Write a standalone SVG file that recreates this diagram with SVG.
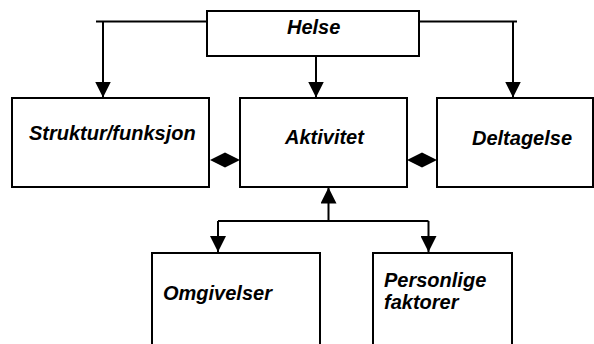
<svg xmlns="http://www.w3.org/2000/svg" width="594" height="344" viewBox="0 0 594 344">
  <style>
    .box { fill: #ffffff; stroke: #000000; stroke-width: 2; }
    .lbl { font-family: "Liberation Sans", Arial, sans-serif; font-size: 20px; font-weight: bold; font-style: italic; fill: #000000; }
    .ln { fill: none; stroke: #000000; stroke-width: 2; }
    .dia { fill: #000000; stroke: none; }
  </style>
  <defs>
    <marker id="arr" markerUnits="userSpaceOnUse" markerWidth="16" markerHeight="16" viewBox="0 0 15 15" refX="15" refY="7.5" orient="auto">
      <path d="M0,0 L15,7.5 L0,15 Z" fill="#000000"/>
    </marker>
  </defs>
  <rect width="594" height="344" fill="#ffffff"/>

  <g id="connectors">
    <path class="ln" d="M96,21.5 H206"/>
    <path class="ln" d="M103,21.5 V97.5" marker-end="url(#arr)"/>
    <path class="ln" d="M416,21.5 H517"/>
    <path class="ln" d="M513,21.5 V97.5" marker-end="url(#arr)"/>
    <path class="ln" d="M316,52 V97.5" marker-end="url(#arr)"/>
    <polygon class="dia" points="210,160 225,152.5 240,160 225,167.5"/>
    <polygon class="dia" points="407,160 422,152.5 437,160 422,167.5"/>
    <path class="ln" d="M328.5,221 V187.5" marker-end="url(#arr)"/>
    <path class="ln" d="M218,221 H428.5"/>
    <path class="ln" d="M218,221 V252" marker-end="url(#arr)"/>
    <path class="ln" d="M428.5,221 V252" marker-end="url(#arr)"/>
  </g>

  <g id="helse">
    <rect class="box" x="207" y="11" width="212" height="45"/>
    <text class="lbl" x="287" y="34">Helse</text>
  </g>
  <g id="struktur">
    <rect class="box" x="12" y="98" width="197" height="89"/>
    <text class="lbl" x="29" y="140">Struktur/funksjon</text>
  </g>
  <g id="aktivitet">
    <rect class="box" x="240" y="98" width="167" height="89"/>
    <text class="lbl" x="285" y="144">Aktivitet</text>
  </g>
  <g id="deltagelse">
    <rect class="box" x="437" y="98" width="156" height="89"/>
    <text class="lbl" x="472" y="145">Deltagelse</text>
  </g>
  <g id="omgivelser">
    <rect class="box" x="152" y="253" width="168" height="100"/>
    <text class="lbl" x="163" y="300">Omgivelser</text>
  </g>
  <g id="personlige">
    <rect class="box" x="373" y="253" width="139" height="100"/>
    <text class="lbl" x="384" y="287">Personlige</text>
    <text class="lbl" x="384" y="309">faktorer</text>
  </g>
</svg>
